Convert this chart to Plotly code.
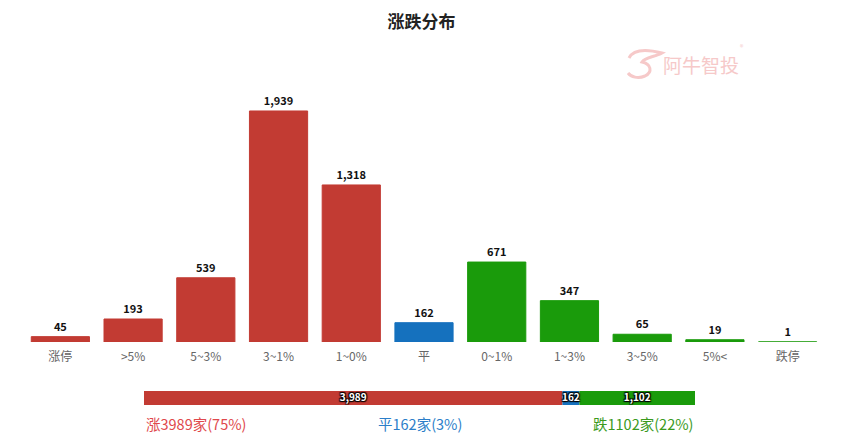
import plotly.graph_objects as go

categories = ["涨停", ">5%", "5~3%", "3~1%", "1~0%", "平", "0~1%", "1~3%", "3~5%", "5%<", "跌停"]
values = [45, 193, 539, 1939, 1318, 162, 671, 347, 65, 19, 1]
groups = ["up", "up", "up", "up", "up", "flat", "down", "down", "down", "down", "down"]

summary_names = ["涨", "平", "跌"]
summary_values = [3989, 162, 1102]
summary_pcts = [75, 3, 22]

RED = "#c23b33"
BLUE = "#1571be"
GREEN = "#1a9b0b"
color_map = {"up": RED, "flat": BLUE, "down": GREEN}
bar_colors = [color_map[g] for g in groups]

W, H = 843, 447
FONT = "Noto Sans CJK SC"


def px(x):
    return x / W


def py(y):
    return 1 - y / H


fig = go.Figure()

fig.add_trace(go.Bar(
    x=categories, y=values,
    marker=dict(color=bar_colors, line=dict(color=bar_colors, width=1)),
    width=0.8,
    text=[f"{v:,}" for v in values],
    textposition="outside",
    textfont=dict(family=FONT, size=11, color="#111111", weight="bold"),
    cliponaxis=False,
    xaxis="x", yaxis="y",
    hoverinfo="x+y",
))

# summary stacked bar
sum_colors = [RED, BLUE, GREEN]
total = sum(summary_values)
cum = 0
mids = []
for name, v, c in zip(summary_names, summary_values, sum_colors):
    fig.add_trace(go.Bar(
        x=[v], y=[0], base=[cum], orientation="h",
        marker=dict(color=c, line=dict(width=0)),
        width=1, xaxis="x2", yaxis="y2", name=name,
        textposition="none",
    ))
    mids.append(cum + v / 2)
    cum += v

fig.add_trace(go.Scatter(
    x=mids, y=[0, 0, 0], mode="text",
    text=[f"{v:,}" for v in summary_values],
    textfont=dict(family=FONT, size=10, color="white", weight="bold",
                  shadow="1px 1px 1px #000, -1px -1px 1px #000, 1px -1px 1px #000, -1px 1px 1px #000"),
    xaxis="x2", yaxis="y2", hoverinfo="skip",
))

legend_colors = ["#e0484c", "#2b7ec9", "#3a9a1d"]
ann = []
ann_pos = [(144, "left"), (420, "center"), (695, "right")]
for (name, v, p, c, (x0, anchor)) in zip(summary_names, summary_values, summary_pcts, legend_colors, ann_pos):
    ann.append(dict(
        x=px(x0), y=py(423), xref="paper", yref="paper",
        text=f"{name}{v}家({p}%)", showarrow=False, xanchor=anchor, yanchor="middle",
        font=dict(family=FONT, size=14.5, color=c),
    ))

# watermark
WM = "#f6c9c9"
ann.append(dict(x=px(661), y=py(65), xref="paper", yref="paper", text="阿牛智投",
                showarrow=False, xanchor="left", yanchor="middle",
                font=dict(family=FONT, size=19, color=WM)))
ann.append(dict(x=px(738), y=py(47), xref="paper", yref="paper", text="®",
                showarrow=False, xanchor="left", yanchor="middle",
                font=dict(family=FONT, size=7, color=WM)))

pts = [(629, 58), (634, 48), (650, 50), (662, 53), (655, 57), (645, 57), (642, 62),
       (651, 64), (653, 72), (645, 76), (638, 79), (631, 77), (628, 73)]
path = f"M {px(pts[0][0])} {py(pts[0][1])}"
for i in range(1, len(pts), 3):
    seg = pts[i:i + 3]
    path += " C " + ", ".join(f"{px(a)} {py(b)}" for a, b in seg)

shapes = [dict(type="path", path=path, xref="paper", yref="paper",
               line=dict(color=WM, width=3))]

fig.update_layout(
    width=W, height=H,
    margin=dict(l=0, r=0, t=0, b=0),
    paper_bgcolor="white", plot_bgcolor="white",
    showlegend=False,
    barmode="overlay",
    title=dict(text="<b>涨跌分布</b>", x=0.5, xanchor="center", y=py(22), yanchor="middle",
               font=dict(family=FONT, size=17, color="#222222")),
    xaxis=dict(domain=[px(24), px(824)], type="category", showgrid=False, zeroline=False,
               showline=False, ticks="", tickfont=dict(family=FONT, size=12, color="#666666"),
               ticklabelstandoff=6, fixedrange=True),
    yaxis=dict(domain=[py(342), py(103.7)], range=[0, 2000], visible=False,
               showgrid=False, zeroline=False, fixedrange=True),
    xaxis2=dict(domain=[px(144), px(695)], range=[0, total], visible=False, anchor="y2",
                showgrid=False, zeroline=False, fixedrange=True),
    yaxis2=dict(domain=[py(405), py(391)], range=[-0.5, 0.5], visible=False, anchor="x2",
                showgrid=False, zeroline=False, fixedrange=True),
    annotations=ann,
    shapes=shapes,
)

fig.write_html("out.html")
